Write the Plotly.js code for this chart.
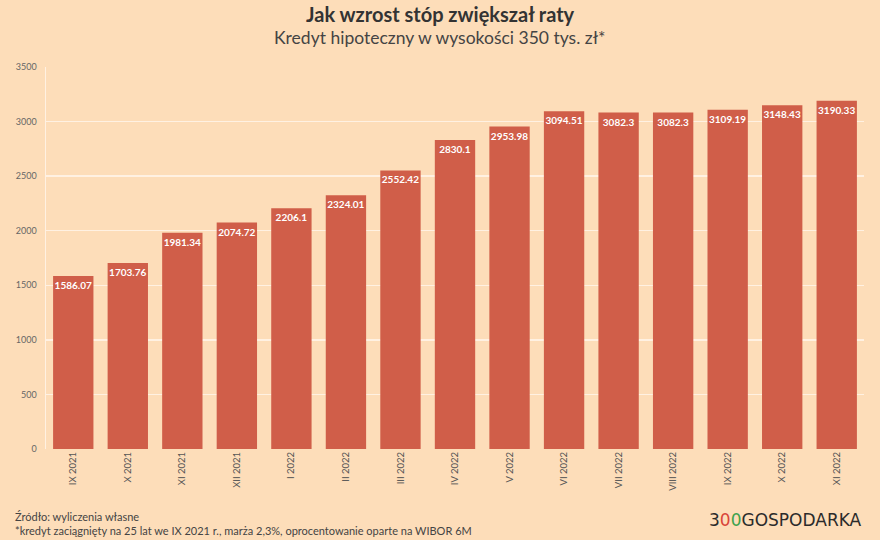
<!DOCTYPE html>
<html>
<head>
<meta charset="utf-8">
<script src="https://cdn.plot.ly/plotly-3.0.1.min.js"></script>
<style>
  html, body { margin: 0; padding: 0; background: #FDDDB9; }
  #chart { width: 880px; height: 540px; }
</style>
</head>
<body>
<div id="chart"></div>
<script>
// miesiące i rata (zł)
const months = ["IX 2021", "X 2021", "XI 2021", "XII 2021", "I 2022", "II 2022", "III 2022",
  "IV 2022", "V 2022", "VI 2022", "VII 2022", "VIII 2022", "IX 2022", "X 2022", "XI 2022"];
const installments = [1586.07, 1703.76, 1981.34, 2074.72, 2206.1, 2324.01, 2552.42,
  2830.1, 2953.98, 3094.51, 3082.3, 3082.3, 3109.19, 3148.43, 3190.33];
const yTicks = [0, 500, 1000, 1500, 2000, 2500, 3000, 3500];

const FONT = "Lato, 'Noto Sans', sans-serif";
const BG = "#FDDDB9";

const trace = {
  type: "bar",
  x: months,
  y: installments,
  marker: { color: "#D05E49" },
  text: installments.map(v => String(v)),
  textposition: "inside",
  insidetextanchor: "end",
  constraintext: "none",
  textangle: 0,
  textfont: { family: FONT, size: 10, color: "#ffffff", weight: "bold" },
  hoverinfo: "x+y",
  cliponaxis: false
};

const layout = {
  width: 880, height: 540,
  paper_bgcolor: BG, plot_bgcolor: BG,
  margin: { l: 46, r: 16, t: 67, b: 91 },
  bargap: 0.26,
  showlegend: false,
  font: { family: FONT, color: "#555" },
  xaxis: {
    type: "category",
    tickangle: -90,
    tickfont: { size: 9.5, color: "#555" },
    showgrid: false,
    ticks: "", ticklen: 0,
    showline: false,
    fixedrange: true
  },
  yaxis: {
    range: [0, 3500],
    tickvals: yTicks,
    tickfont: { size: 9, color: "#666" },
    gridcolor: "#FFF1E2", gridwidth: 1.5,
    zeroline: false,
    showline: true, linecolor: "#FFF1E2", linewidth: 1.5,
    ticks: "", ticklabelstandoff: 6,
    fixedrange: true
  },
  annotations: [
    { text: "<b>Jak wzrost stóp zwiększał raty</b>", xref: "paper", yref: "paper",
      x: 0.5, xanchor: "center", xshift: -15, y: 1, yanchor: "bottom", yshift: 39, showarrow: false,
      font: { family: FONT, size: 20, color: "#333" } },
    { text: "Kredyt hipoteczny w wysokości 350 tys. zł*", xref: "paper", yref: "paper",
      x: 0.5, xanchor: "center", xshift: -15, y: 1, yanchor: "bottom", yshift: 17, showarrow: false,
      font: { family: FONT, size: 17.5, color: "#444" } },
    { text: "Źródło: wyliczenia własne", xref: "paper", yref: "paper",
      x: 0, xanchor: "left", xshift: -33, y: 0, yanchor: "middle", yshift: -67, showarrow: false,
      font: { family: FONT, size: 11, color: "#444" } },
    { text: "*kredyt zaciągnięty na 25 lat we IX 2021 r., marża 2,3%, oprocentowanie oparte na WIBOR 6M",
      xref: "paper", yref: "paper",
      x: 0, xanchor: "left", xshift: -33, y: 0, yanchor: "middle", yshift: -81, showarrow: false,
      font: { family: FONT, size: 11, color: "#444" } },
    { text: "3<span style='color:#D9453A'>0</span><span style='color:#3FA34D'>0</span>GOSPODARKA",
      xref: "paper", yref: "paper",
      x: 1, xanchor: "right", xshift: 0, y: 0, yanchor: "middle", yshift: -71, showarrow: false,
      font: { family: "'DejaVu Sans', sans-serif", size: 17, color: "#2b2b2b" } }
  ]
};

Plotly.newPlot("chart", [trace], layout, { displayModeBar: false, staticPlot: true });
</script>
</body>
</html>
